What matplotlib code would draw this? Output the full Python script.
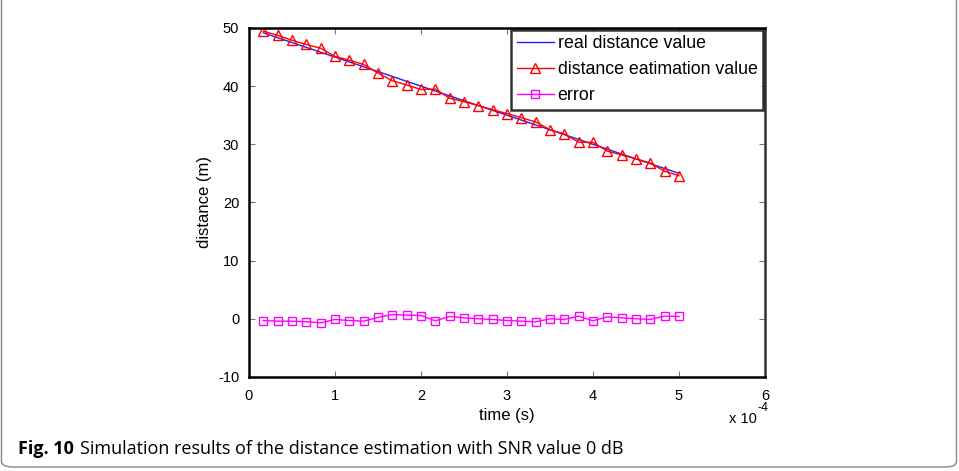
import numpy as np
import matplotlib.pyplot as plt
from matplotlib.patches import FancyBboxPatch

# time samples (x 1e-4 s)
k = np.arange(1, 31)
time = k / 6.0 * 1e-4
real_dist = 50 - 25 * k / 30.0
error = [-0.29, -0.4, -0.4, -0.5, -0.69, -0.11, -0.29, -0.4, 0.23, 0.74,
         0.63, 0.57, -0.34, 0.4, 0.17, 0.0, -0.11, -0.29, -0.4, -0.52,
         0.0, -0.11, 0.46, -0.34, 0.34, 0.17, 0.0, -0.11, 0.46, 0.4]
error = np.array(error)
est_dist = real_dist - error

plt.rcParams['font.family'] = ['Liberation Sans', 'DejaVu Sans']
plt.rcParams['axes.unicode_minus'] = False

fig = plt.figure(figsize=(9.59, 4.71), dpi=100)
ax = fig.add_axes([0.2596, 0.1996, 0.5381, 0.741])

ax.plot(time, real_dist, color='#1f1fff', lw=1.0, label='real distance value')
ax.plot(time, est_dist, color='red', lw=1.0, marker='^', ms=6.5,
        mfc='none', mec='red', mew=1.0, label='distance eatimation value')
ax.plot(time, error, color='magenta', lw=1.0, marker='s', ms=5.5,
        mfc='none', mec='magenta', mew=1.0, label='error')

ax.set_xlim(0, 6e-4)
ax.set_ylim(-10, 50)
ax.set_xticks(np.arange(0, 7) * 1e-4)
ax.set_xticklabels([str(i) for i in range(7)])
ax.set_yticks(np.arange(-10, 51, 10))
ax.tick_params(direction='in', length=4, color='#777777', labelsize=10.5,
               top=True, right=True)
ax.tick_params(axis='x', pad=9)
ax.tick_params(axis='y', pad=7)
for side in ['left', 'bottom', 'top']:
    ax.spines[side].set_linewidth(1.8)
    ax.spines[side].set_color('black')
ax.spines['right'].set_linewidth(1.8)
ax.spines['right'].set_color('#333333')

ax.set_xlabel('time (s)', fontsize=12, labelpad=3)
ax.set_ylabel('distance (m)', fontsize=12, labelpad=4)
ax.text(757 / 959, 1 - 419 / 471, 'x 10', transform=fig.transFigure,
        ha='right', va='center', fontsize=10.5)
ax.text(757 / 959, 1 - 408 / 471, '-4', transform=fig.transFigure,
        ha='left', va='center', fontsize=9)

leg = ax.legend(loc='upper right', fontsize=12.8, frameon=True, fancybox=False,
                borderpad=0.3, labelspacing=0.5, handlelength=2.1,
                handletextpad=0.2, borderaxespad=0.12)
leg.get_frame().set_edgecolor('black')
leg.get_frame().set_linewidth(1.8)

# caption and rounded frame
fig.text(18 / 959, 1 - 449 / 471, 'Fig. 10', fontsize=13, fontweight='bold',
         family='Open Sans', va='center')
fig.text(80 / 959, 1 - 449 / 471,
         'Simulation results of the distance estimation with SNR value 0 dB',
         fontsize=13, family='Open Sans', va='center')
frame = FancyBboxPatch((1.5 / 959, 4 / 471), 955 / 959, 1.2,
                       boxstyle='round,pad=0,rounding_size=0.012',
                       transform=fig.transFigure, fill=False,
                       edgecolor='#888888', lw=1.0)
fig.patches.append(frame)

fig.savefig('out.png', dpi=100)
